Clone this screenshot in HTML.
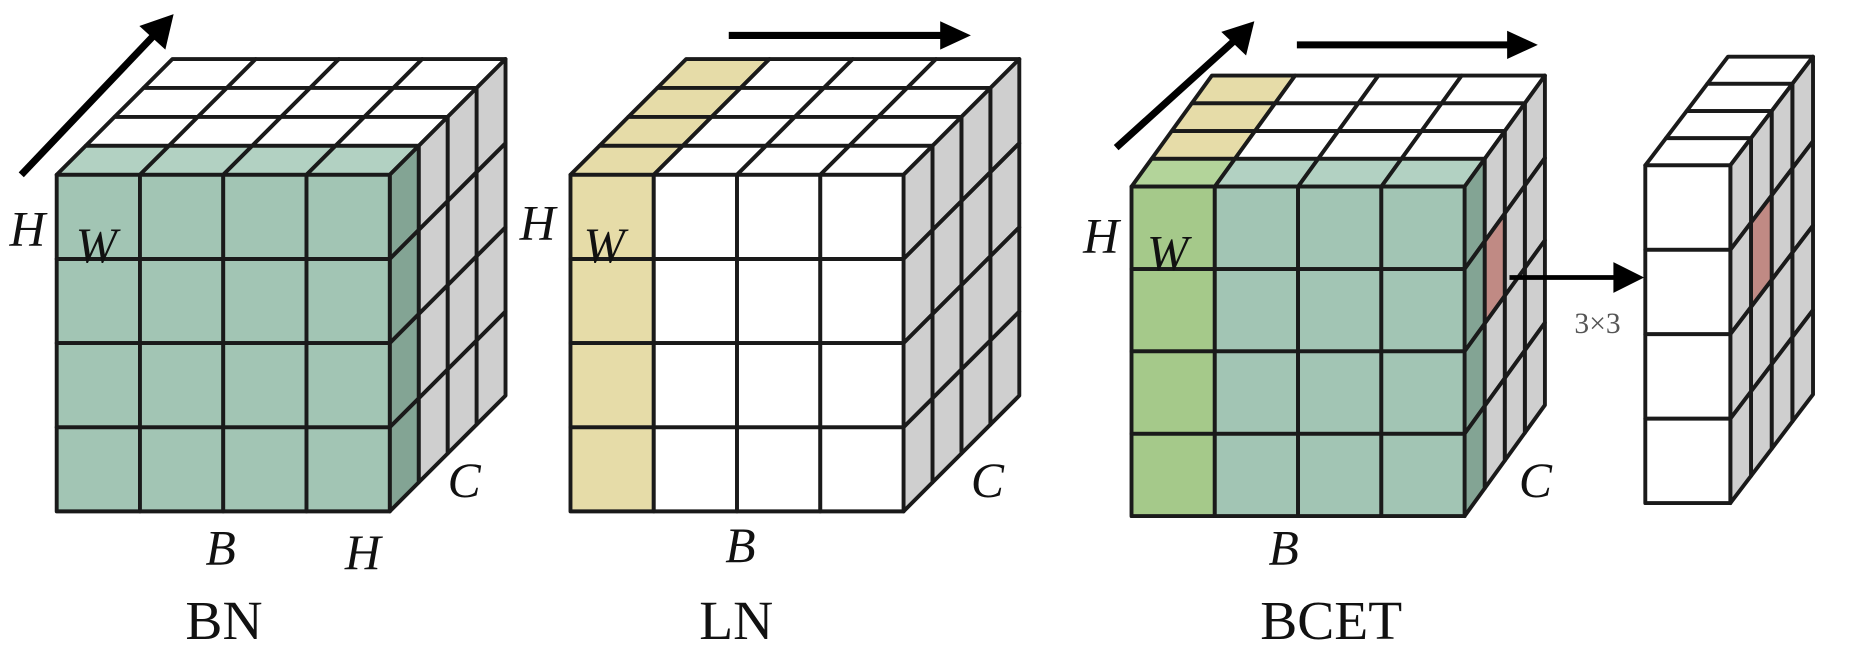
<!DOCTYPE html>
<html><head><meta charset="utf-8"><style>
html,body{margin:0;padding:0;background:#fff;width:1852px;height:646px;overflow:hidden}
svg{display:block}
text{font-family:"Liberation Serif",serif;fill:#111}
.i{font-style:italic}
</style></head><body>
<svg id="s" width="1852" height="646" viewBox="0 0 1568 547" preserveAspectRatio="none">
<g id="g"></g>
<g fill="#000" stroke="#000">
<line x1="18" y1="148" x2="135" y2="25" stroke-width="6"/>
<polygon points="147,12 140,42 118,22" stroke="none"/>
<line x1="617" y1="30" x2="800" y2="30" stroke-width="6"/>
<polygon points="822,30 796,18 796,42" stroke="none"/>
<line x1="945" y1="125" x2="1050" y2="30" stroke-width="6"/>
<polygon points="1062,18 1055,47 1034,27" stroke="none"/>
<line x1="1098" y1="38" x2="1280" y2="38" stroke-width="6"/>
<polygon points="1302,38 1276,26 1276,50" stroke="none"/>
<line x1="1278" y1="235" x2="1370" y2="235" stroke-width="4"/>
<polygon points="1392,235 1366,222 1366,248" stroke="none"/>
</g>
<text class="i" x="8" y="208" font-size="42">H</text>
<text class="i" x="64" y="222" font-size="42">W</text>
<text class="i" x="174" y="478" font-size="42">B</text>
<text class="i" x="292" y="482" font-size="42">H</text>
<text class="i" x="379" y="421" font-size="42">C</text>
<text x="157" y="541" font-size="47">BN</text>
<text class="i" x="440" y="203" font-size="42">H</text>
<text class="i" x="494" y="222" font-size="42">W</text>
<text class="i" x="614" y="476" font-size="42">B</text>
<text class="i" x="822" y="421" font-size="42">C</text>
<text x="592" y="541" font-size="47">LN</text>
<text class="i" x="917" y="214" font-size="42">H</text>
<text class="i" x="971" y="228" font-size="42">W</text>
<text class="i" x="1074" y="478" font-size="42">B</text>
<text class="i" x="1286" y="421" font-size="42">C</text>
<text x="1067" y="541" font-size="47">BCET</text>
<text x="1333" y="282" font-size="25" style="fill:#555">3×3</text>
</svg>
<script>
var g=document.getElementById('g'),out='';
function poly(p,f){out+='<polygon points="'+p.map(function(a){return a[0].toFixed(1)+','+a[1].toFixed(1)}).join(' ')+'" fill="'+f+'" stroke="#1a1a1a" stroke-width="3.3" stroke-linejoin="round"/>';}
function cube(o){
 var x0=o.x,y0=o.y,n=o.n,w=o.w,m=o.m,h=o.h,L=o.L,dx=o.dx,dy=o.dy,x1=x0+n*w;
 for(var k=L-1;k>=0;k--){
  for(var i=0;i<n;i++){var ax=x0+i*w+k*dx,ay=y0+k*dy;
   poly([[ax,ay],[ax+w,ay],[ax+w+dx,ay+dy],[ax+dx,ay+dy]],o.top(k,i));}
  for(var j=0;j<m;j++){var bx=x1+k*dx,by=y0+j*h+k*dy;
   poly([[bx,by],[bx+dx,by+dy],[bx+dx,by+h+dy],[bx,by+h]],o.side(k,j));}
 }
 for(var i=0;i<n;i++)for(var j=0;j<m;j++){var cx=x0+i*w,cy=y0+j*h;
  poly([[cx,cy],[cx+w,cy],[cx+w,cy+h],[cx,cy+h]],o.front(i,j));}
}
var T='#a2c5b4',TL='#b2d1c2',TD='#83a494',G='#cfcfcf',Y='#e6dca8',GR='#a5c98a',GRL='#b3d49a',R='#c08a84',W='#fff';
cube({x:48,y:148,n:4,w:70.5,m:4,h:71.25,L:4,dx:24.5,dy:-24.5,
 top:function(k,i){return k==0?TL:W},side:function(k,j){return k==0?TD:G},front:function(){return T}});
cube({x:483,y:148,n:4,w:70.5,m:4,h:71.25,L:4,dx:24.5,dy:-24.5,
 top:function(k,i){return i==0?Y:W},side:function(){return G},front:function(i){return i==0?Y:W}});
cube({x:958,y:158,n:4,w:70.5,m:4,h:69.75,L:4,dx:17,dy:-23.5,
 top:function(k,i){return k==0?(i==0?GRL:TL):(i==0?Y:W)},side:function(k,j){return k==0?TD:(k==1&&j==1?R:G)},front:function(i){return i==0?GR:T}});
cube({x:1393,y:140,n:1,w:72,m:4,h:71.5,L:4,dx:17.5,dy:-23,
 top:function(){return W},side:function(k,j){return (k==1&&j==1)?R:G},front:function(){return W}});
g.innerHTML=out;
</script>
</body></html>
